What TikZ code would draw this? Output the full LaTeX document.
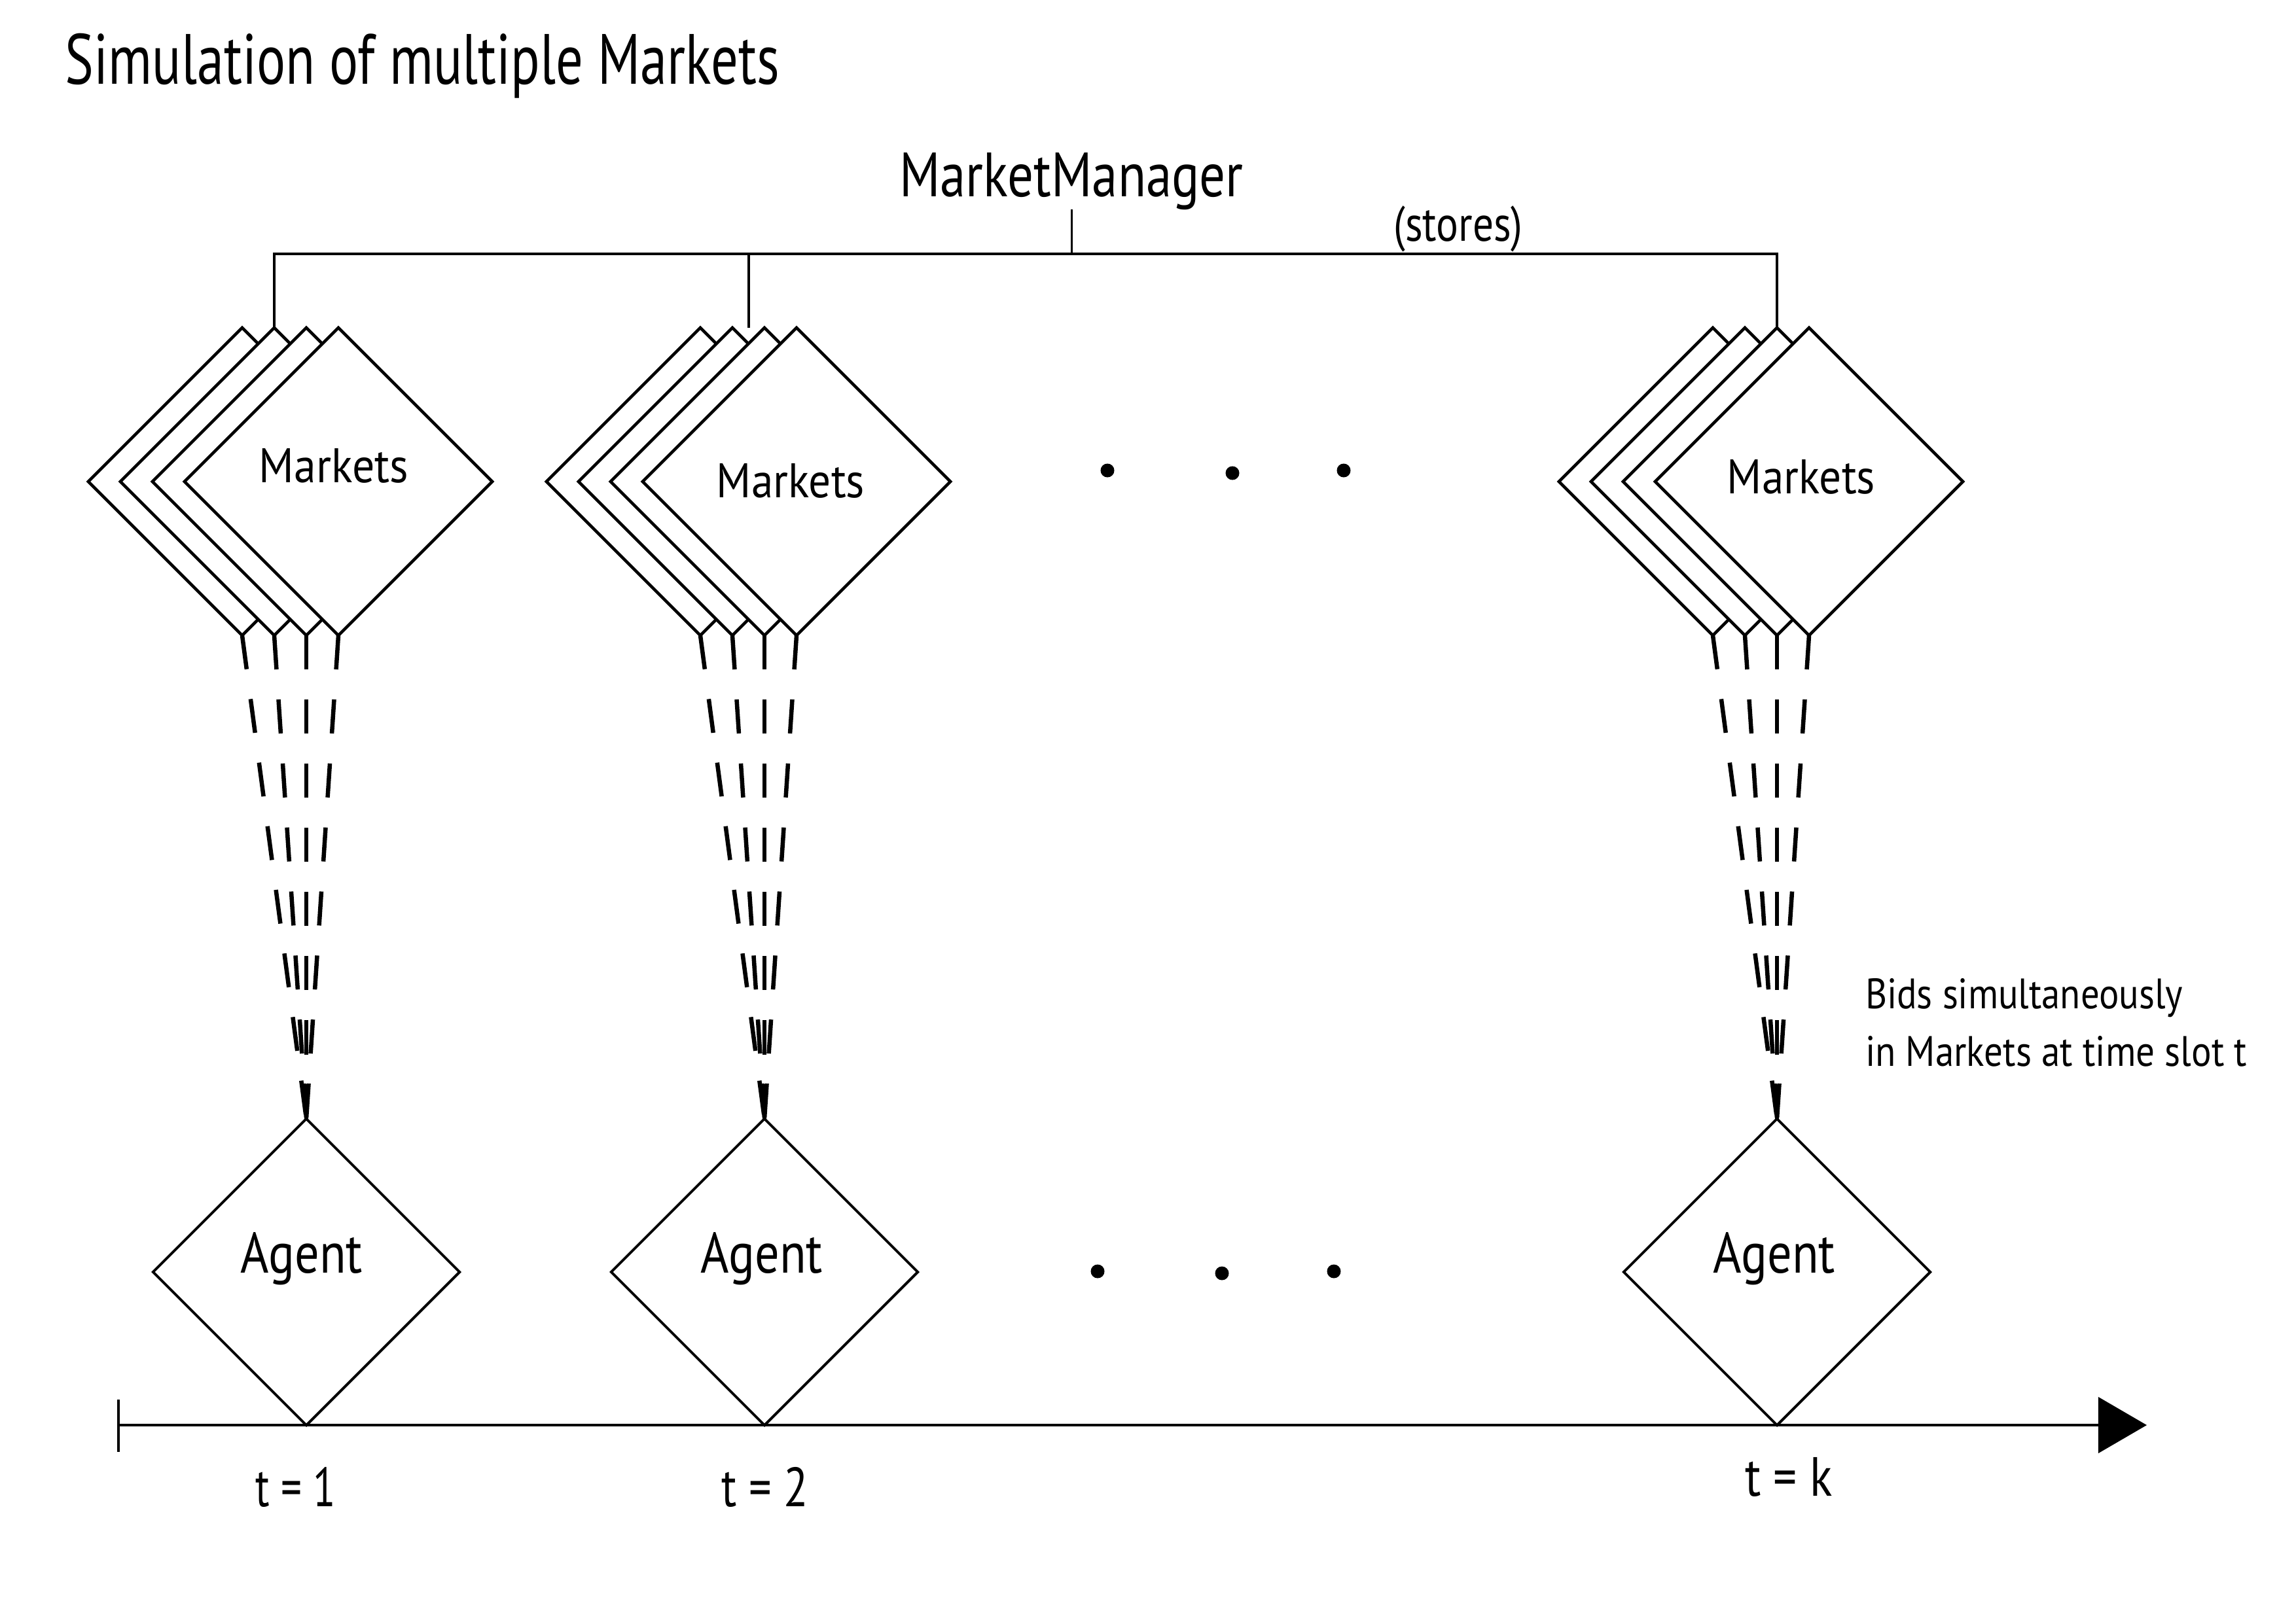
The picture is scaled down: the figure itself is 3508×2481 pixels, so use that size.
\documentclass[tikz,border=0pt]{standalone}
\usepackage{fontspec}
\setmainfont{PT Sans}
\usepackage{graphicx}
\usetikzlibrary{shapes.geometric,arrows.meta,calc}
% text set at a given size (pt) and stretched to a given width (px, 1px = 0.1mm)
\newcommand{\fitw}[3]{{\fontsize{#1pt}{#1pt}\selectfont\setbox0=\hbox{#3}\pgfmathsetmacro\fitsx{#2*0.284528/\the\wd0}\scalebox{\fitsx}[1]{\box0}}}
\tikzset{
  txt/.style={inner sep=0pt, outer sep=0pt},
  mkt/.style={draw, diamond, fill=white, minimum width=47mm, minimum height=47mm, inner sep=0pt, outer sep=0pt, line width=0.45mm},
  agent/.style={draw, diamond, fill=white, minimum width=46.8mm, minimum height=46.8mm, inner sep=0pt, outer sep=0pt, line width=0.4mm},
  dl/.style={line width=0.65mm, dash pattern=on 5.2mm off 4.6mm},
  conn/.style={line width=0.4mm},
  thinconn/.style={line width=0.3mm},
  axisline/.style={line width=0.45mm},
  dot/.style={circle, fill, inner sep=0pt, minimum size=2.1mm},
}
\begin{document}
\begin{tikzpicture}[x=0.01cm, y=-0.01cm]
\useasboundingbox (0,0) rectangle (3508,2481);

% title
\node[txt, anchor=base west] (title) at (100,128) {\fitw{30.9}{1090}{Simulation of multiple Markets}};

% MarketManager
\node[txt, anchor=base] (mm) at (1637,300) {\fitw{27.2}{525}{MarketManager}};
\node[txt, anchor=base] (stores) at (2228,368) {\fitw{21.5}{197}{(stores)}};

% market stacks
\foreach \s/\x in {1/370, 2/1070, 3/2617} {
  \foreach \i in {1,...,4} {
    \node[mkt] (m\s\i) at ({\x+(\i-1)*49},736) {};
  }
}
\node[txt, anchor=base] (mt1) at (510,737) {\fitw{21.1}{228}{Markets}};
\node[txt, anchor=base] (mt2) at (1208,760) {\fitw{21.1}{226}{Markets}};
\node[txt, anchor=base] (mt3) at (2752,754) {\fitw{21.1}{226}{Markets}};

% connections to MarketManager
\coordinate (bar) at (0,388);
\draw[conn] (m12.north) -- (m12.north |- bar) -- (m33.north |- bar) -- (m33.north);
\coordinate (s2c) at ($(m22.north)!0.5!(m23.north)$);
\draw[conn] (s2c |- bar) -- (s2c);
\draw[thinconn] (mm.south) -- (mm.south |- bar);

% agents
\node[agent] (a1) at (468,1944) {};
\node[agent] (a2) at (1168,1944) {};
\node[agent] (a3) at (2715,1944) {};
\node[txt, anchor=base] (at1) at (461,1945) {\fitw{24.8}{186}{Agent}};
\node[txt, anchor=base] (at2) at (1164,1945) {\fitw{24.8}{186}{Agent}};
\node[txt, anchor=base] (at3) at (2711,1945) {\fitw{24.8}{186}{Agent}};

% converging dashed lines
\foreach \s in {1,2,3} {
  \foreach \i in {1,...,4} {
    \draw[dl] (m\s\i.south) -- (a\s.north);
  }
}

% dots
\node[dot] (d1) at (1692,719) {};
\node[dot] (d2) at (1883,723) {};
\node[dot] (d3) at (2053,719) {};
\node[dot] (d4) at (1677,1943) {};
\node[dot] (d5) at (1867,1946) {};
\node[dot] (d6) at (2038,1943) {};

% bids text
\node[txt, anchor=base west] (bids) at (2850,1541) {\vtop{\baselineskip=25.2pt\hbox{\fitw{18.5}{485}{Bids simultaneously}}\hbox{\fitw{18.5}{583}{in Markets at time slot t}}}};

% time axis
\coordinate (ax0) at (181,2178);
\coordinate (ax1) at (3280,2178);
\coordinate (tk0) at (181,2139);
\coordinate (tk1) at (181,2219);
\draw[axisline, -{Triangle[length=7.4mm,width=8.5mm]}] (ax0) -- (ax1);
\draw[axisline] (tk0) -- (tk1);

\node[txt, anchor=base] (t1) at (452,2302) {\fitw{24}{122}{t = 1}};
\node[txt, anchor=base] (t2) at (1169,2302) {\fitw{24}{132}{t = 2}};
\node[txt, anchor=base] (tk) at (2733,2286) {\fitw{24}{133}{t = k}};
\end{tikzpicture}
\end{document}
